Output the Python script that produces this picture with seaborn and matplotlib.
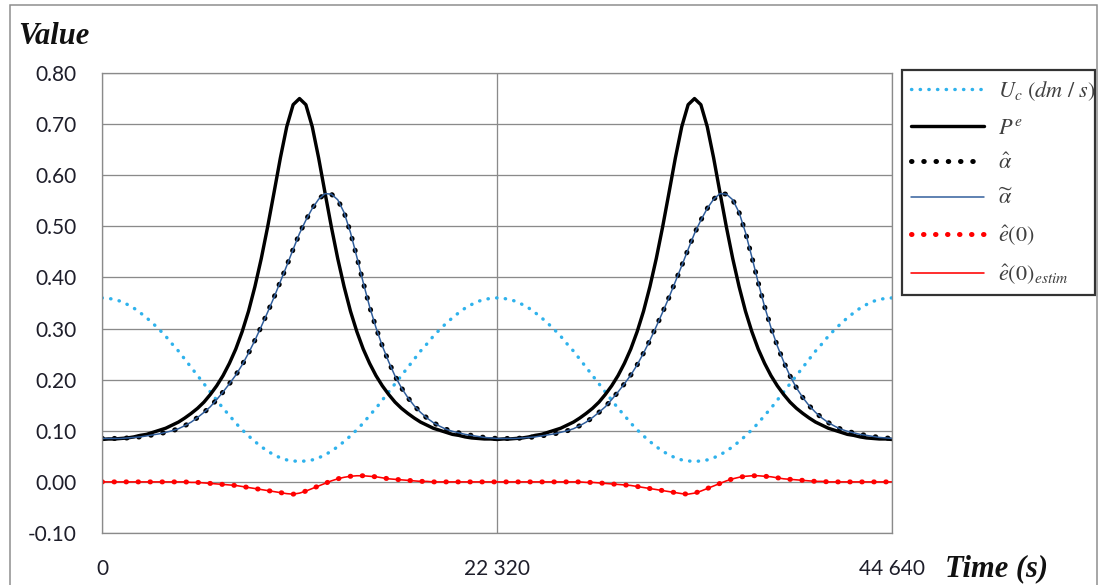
import numpy as np
import matplotlib
matplotlib.use("Agg")
import matplotlib.pyplot as plt
import matplotlib.patches as mpatches
import seaborn as sns

sns.set_theme(style="white")
plt.rcParams["font.family"] = ["Lato", "DejaVu Sans"]
plt.rcParams["mathtext.fontset"] = "stix"

# ── Data: values, one sample every 360 s ────────────────────────────────────
time_s = np.arange(0, 44641, 360)

u_c = [
    0.360, 0.359, 0.357, 0.353, 0.347, 0.340, 0.331, 0.321, 0.310, 0.298, 0.285,
    0.270, 0.256, 0.240, 0.224, 0.208, 0.192, 0.176, 0.160, 0.144, 0.130, 0.115,
    0.102, 0.090, 0.079, 0.069, 0.060, 0.053, 0.047, 0.043, 0.041, 0.040, 0.041,
    0.043, 0.047, 0.053, 0.060, 0.069, 0.079, 0.090, 0.102, 0.115, 0.130, 0.144,
    0.160, 0.176, 0.192, 0.208, 0.224, 0.240, 0.256, 0.270, 0.285, 0.298, 0.310,
    0.321, 0.331, 0.340, 0.347, 0.353, 0.357, 0.359, 0.360,
    0.359, 0.357, 0.353, 0.347, 0.340, 0.331, 0.321, 0.310, 0.298, 0.285,
    0.270, 0.256, 0.240, 0.224, 0.208, 0.192, 0.176, 0.160, 0.144, 0.130, 0.115,
    0.102, 0.090, 0.079, 0.069, 0.060, 0.053, 0.047, 0.043, 0.041, 0.040, 0.041,
    0.043, 0.047, 0.053, 0.060, 0.069, 0.079, 0.090, 0.102, 0.115, 0.130, 0.144,
    0.160, 0.176, 0.192, 0.208, 0.224, 0.240, 0.256, 0.270, 0.285, 0.298, 0.310,
    0.321, 0.331, 0.340, 0.347, 0.353, 0.357, 0.359, 0.360,
]

p_e = [
    0.083, 0.084, 0.084, 0.085, 0.086, 0.088, 0.091, 0.093, 0.097, 0.101, 0.105,
    0.111, 0.117, 0.125, 0.134, 0.144, 0.156, 0.171, 0.188, 0.208, 0.232, 0.260,
    0.294, 0.334, 0.382, 0.437, 0.499, 0.566, 0.634, 0.695, 0.738, 0.750, 0.738,
    0.695, 0.634, 0.566, 0.499, 0.437, 0.382, 0.334, 0.294, 0.260, 0.232, 0.208,
    0.188, 0.171, 0.156, 0.144, 0.134, 0.125, 0.117, 0.111, 0.105, 0.101, 0.097,
    0.093, 0.091, 0.088, 0.086, 0.085, 0.084, 0.084, 0.083,
    0.084, 0.084, 0.085, 0.086, 0.088, 0.091, 0.093, 0.097, 0.101, 0.105,
    0.111, 0.117, 0.125, 0.134, 0.144, 0.156, 0.171, 0.188, 0.208, 0.232, 0.260,
    0.294, 0.334, 0.382, 0.437, 0.499, 0.566, 0.634, 0.695, 0.738, 0.750, 0.738,
    0.695, 0.634, 0.566, 0.499, 0.437, 0.382, 0.334, 0.294, 0.260, 0.232, 0.208,
    0.188, 0.171, 0.156, 0.144, 0.134, 0.125, 0.117, 0.111, 0.105, 0.101, 0.097,
    0.093, 0.091, 0.088, 0.086, 0.085, 0.084, 0.084, 0.083,
]

alpha_hat = [
    0.085, 0.085, 0.085, 0.085, 0.086, 0.087, 0.088, 0.090, 0.092, 0.094, 0.097,
    0.100, 0.104, 0.110, 0.117, 0.126, 0.136, 0.147, 0.161, 0.176, 0.192, 0.209,
    0.229, 0.252, 0.277, 0.304, 0.332, 0.361, 0.392, 0.423, 0.455, 0.486, 0.512,
    0.535, 0.553, 0.564, 0.563, 0.552, 0.527, 0.488, 0.440, 0.390, 0.343, 0.302,
    0.266, 0.235, 0.207, 0.184, 0.165, 0.149, 0.136, 0.125, 0.116, 0.109, 0.103,
    0.099, 0.096, 0.093, 0.091, 0.089, 0.087, 0.086, 0.085,
    0.085, 0.085, 0.085, 0.086, 0.087, 0.088, 0.090, 0.092, 0.094, 0.097,
    0.100, 0.104, 0.110, 0.117, 0.126, 0.136, 0.147, 0.161, 0.176, 0.192, 0.209,
    0.229, 0.252, 0.277, 0.304, 0.332, 0.361, 0.392, 0.423, 0.455, 0.486, 0.512,
    0.535, 0.553, 0.564, 0.563, 0.552, 0.527, 0.488, 0.440, 0.390, 0.343, 0.302,
    0.266, 0.235, 0.207, 0.184, 0.165, 0.149, 0.136, 0.125, 0.116, 0.109, 0.103,
    0.099, 0.096, 0.093, 0.091, 0.089, 0.087, 0.086, 0.085,
]

# the filtered estimate sits on top of alpha_hat everywhere
alpha_tilde = list(alpha_hat)

e0_hat = [
    0.000, 0.000, 0.000, 0.000, 0.000, 0.000, 0.000, 0.000, 0.000, 0.000, 0.000,
    0.000, 0.000, 0.000, -0.001, -0.001, -0.002, -0.003, -0.004, -0.005, -0.006,
    -0.007, -0.009, -0.011, -0.013, -0.015, -0.017, -0.019, -0.021, -0.023, -0.024,
    -0.022, -0.018, -0.013, -0.008, -0.003, 0.002, 0.006, 0.009, 0.011, 0.012,
    0.012, 0.011, 0.010, 0.008, 0.006, 0.005, 0.004, 0.003, 0.002, 0.001, 0.001,
    0.000, 0.000, 0.000, 0.000, 0.000, 0.000, 0.000, 0.000, 0.000, 0.000, 0.000,
    0.000, 0.000, 0.000, 0.000, 0.000, 0.000, 0.000, 0.000, 0.000, 0.000,
    0.000, 0.000, 0.000, -0.001, -0.001, -0.002, -0.003, -0.004, -0.005, -0.006,
    -0.007, -0.009, -0.011, -0.013, -0.015, -0.017, -0.019, -0.021, -0.023, -0.024,
    -0.022, -0.018, -0.013, -0.008, -0.003, 0.002, 0.006, 0.009, 0.011, 0.012,
    0.012, 0.011, 0.010, 0.008, 0.006, 0.005, 0.004, 0.003, 0.002, 0.001, 0.001,
    0.000, 0.000, 0.000, 0.000, 0.000, 0.000, 0.000, 0.000, 0.000, 0.000, 0.000,
]

e0_estim = list(e0_hat)

for series in (u_c, p_e, alpha_hat, alpha_tilde, e0_hat, e0_estim):
    assert len(series) == len(time_s), len(series)

x_ticks = [0, 22320, 44640]
x_tick_labels = ["0", "22 320", "44 640"]
y_ticks = [-0.10, 0.00, 0.10, 0.20, 0.30, 0.40, 0.50, 0.60, 0.70, 0.80]
y_tick_labels = ["-0.10", "0.00", "0.10", "0.20", "0.30", "0.40", "0.50", "0.60", "0.70", "0.80"]

# ── Figure ───────────────────────────────────────────────────────────────────
W, H = 1100, 585
PT = 72 / 100  # points per pixel at dpi=100
fig = plt.figure(figsize=(W / 100, H / 100), dpi=100)
ax = fig.add_axes([102 / W, 52 / H, 790 / W, 460 / H])

line_kw = dict(ax=ax, errorbar=None)
dot_kw = dict(dash_capstyle="round")
solid_kw = dict(solid_joinstyle="round", solid_capstyle="round")
sns.lineplot(x=time_s, y=u_c, color="#2FB2EC", linewidth=3.4 * PT,
             linestyle=(0, (0.1, 2.45)), label=r"$U_c\ (dm\ /\ s)$",
             **dot_kw, **line_kw)
sns.lineplot(x=time_s, y=p_e, color="black", linewidth=3.4 * PT,
             label=r"$P^e$", **solid_kw, **line_kw)
sns.lineplot(x=time_s, y=alpha_hat, color="black", linewidth=5 * PT,
             linestyle=(0, (0.1, 2.35)), label=r"$\hat{\alpha}$",
             **dot_kw, **line_kw)
sns.lineplot(x=time_s, y=alpha_tilde, color="#2E5C9A", linewidth=1.5 * PT,
             label=r"$\widetilde{\alpha}$", **solid_kw, **line_kw)
sns.lineplot(x=time_s, y=e0_hat, color="#FF0000", linewidth=5 * PT,
             linestyle=(0, (0.1, 2.3)), label=r"$\hat{e}(0)$",
             **dot_kw, **line_kw)
sns.lineplot(x=time_s, y=e0_estim, color="#FF0000", linewidth=1.6 * PT,
             label=r"$\hat{e}(0)_{estim}$", **solid_kw, **line_kw)

ax.set_xlim(0, 44640)
ax.set_ylim(-0.10, 0.80)
ax.set_xticks(x_ticks)
ax.set_xticklabels(x_tick_labels)
ax.set_yticks(y_ticks)
ax.set_yticklabels(y_tick_labels)
ax.set_xlabel("")
ax.set_ylabel("")

grid_col = "#8A8A8A"
ax.grid(True, color=grid_col, linewidth=1.3 * PT)
ax.set_axisbelow(True)
for side in ax.spines.values():
    side.set_visible(True)
    side.set_color(grid_col)
    side.set_linewidth(1.3 * PT)

ax.tick_params(axis="both", length=0, labelsize=15, colors="#1E1E2A")
ax.tick_params(axis="y", pad=18)
ax.tick_params(axis="x", pad=19)

# axis titles in the corners, Excel style
title_kw = dict(family="Liberation Serif", weight="bold", style="italic",
                size=22, color="#111111")
fig.text(18 / W, (H - 44) / H, "Value", va="baseline", ha="left", **title_kw)
fig.text(945 / W, (H - 576) / H, "Time (s)", va="baseline", ha="left", **title_kw)

leg = ax.legend(loc="upper left",
                bbox_to_anchor=(902 / W, (H - 298) / H, 193 / W, 228 / H),
                bbox_transform=fig.transFigure, mode="expand", borderaxespad=0,
                frameon=True, fancybox=False, edgecolor="black", fontsize=16,
                handlelength=3.3, handletextpad=0.6, labelspacing=0.68,
                borderpad=0.4, labelcolor="#404040")
leg.get_frame().set_linewidth(1.6)

# grey frame round the whole chart
fig.patches.append(mpatches.Rectangle((10 / W, -0.1), 1087 / W, 580 / H + 0.1,
                                      transform=fig.transFigure, fill=False,
                                      edgecolor="#8C8C8C", linewidth=1.5 * PT))

fig.savefig("out.png", dpi=100)
plt.close(fig)
